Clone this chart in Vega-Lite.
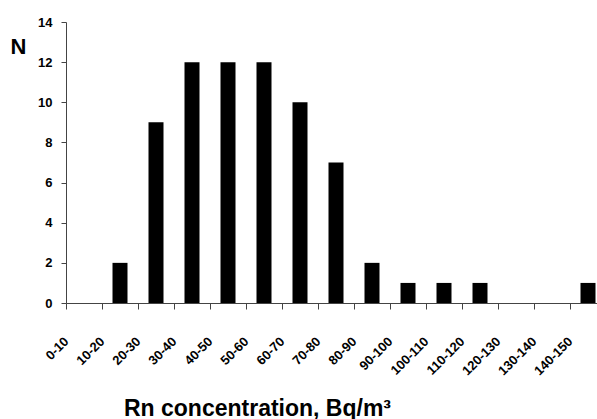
{
  "$schema": "https://vega.github.io/schema/vega-lite/v6.json",
  "width": 531,
  "height": 281,
  "autosize": "none",
  "padding": {"left": 66, "top": 22, "right": 0, "bottom": 116},
  "background": "white",
  "config": {"view": {"stroke": null}, "font": "Liberation Sans"},
  "data": {"values": [
    {"range": "0-10", "N": 0},
    {"range": "10-20", "N": 2},
    {"range": "20-30", "N": 9},
    {"range": "30-40", "N": 12},
    {"range": "40-50", "N": 12},
    {"range": "50-60", "N": 12},
    {"range": "60-70", "N": 10},
    {"range": "70-80", "N": 7},
    {"range": "80-90", "N": 2},
    {"range": "90-100", "N": 1},
    {"range": "100-110", "N": 1},
    {"range": "110-120", "N": 1},
    {"range": "120-130", "N": 0},
    {"range": "130-140", "N": 0},
    {"range": "140-150", "N": 1}
  ]},
  "mark": {"type": "bar", "color": "black", "size": 15},
  "encoding": {
    "x": {
      "field": "range", "type": "nominal", "sort": null,
      "scale": {"type": "band", "paddingInner": 0, "paddingOuter": 0, "range": [0, 540]},
      "axis": {
        "title": "Rn concentration, Bq/m³",
        "tickBand": "extent",
        "labelOffset": -18,
        "labelAngle": -45,
        "labelAlign": "right",
        "labelBaseline": "middle",
        "labelPadding": 30,
        "labelFontSize": 13,
        "labelFontWeight": "bold",
        "labelColor": "black",
        "labelOverlap": false,
        "tickSize": 6,
        "tickColor": "#444",
        "domainColor": "#444",
        "grid": false,
        "titleFontSize": 23,
        "titleFontWeight": "bold",
        "titleColor": "black",
        "titleX": 191,
        "titleY": 112,
        "titleAlign": "center",
        "titleBaseline": "alphabetic"
      }
    },
    "y": {
      "field": "N", "type": "quantitative",
      "scale": {"domain": [0, 14]},
      "axis": {
        "title": "N",
        "titleAngle": 0,
        "titleX": -48,
        "titleY": 31,
        "titleAlign": "center",
        "titleBaseline": "alphabetic",
        "titleFontSize": 22,
        "titleFontWeight": "bold",
        "titleColor": "black",
        "values": [0, 2, 4, 6, 8, 10, 12, 14],
        "tickSize": 5,
        "tickColor": "#444",
        "domainColor": "#444",
        "labelPadding": 9,
        "labelFontSize": 13,
        "labelFontWeight": "bold",
        "labelColor": "black",
        "grid": false
      }
    }
  }
}
